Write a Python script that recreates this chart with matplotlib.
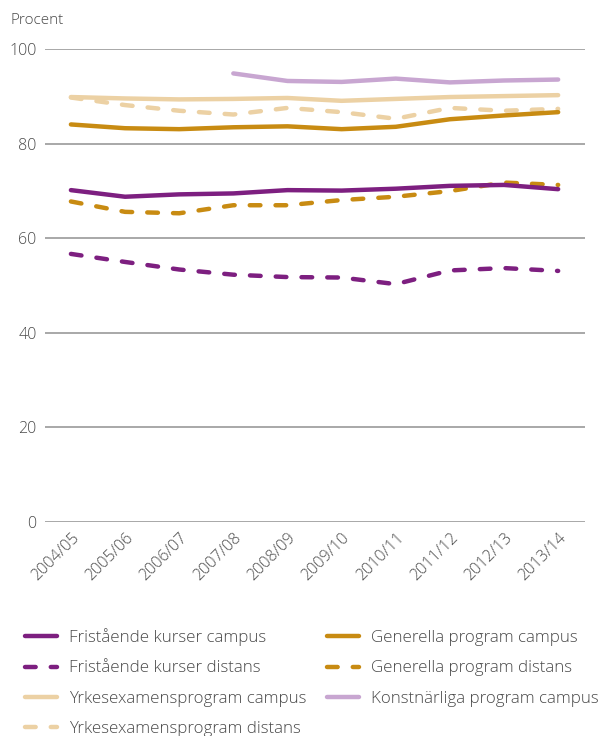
import matplotlib.pyplot as plt
import numpy as np

plt.rcParams['font.family'] = ['Open Sans', 'DejaVu Sans']
plt.rcParams['font.weight'] = 'light'

years = ['2004/05', '2005/06', '2006/07', '2007/08', '2008/09',
         '2009/10', '2010/11', '2011/12', '2012/13', '2013/14']

fristaende_campus = [70.2, 68.8, 69.3, 69.5, 70.2, 70.1, 70.5, 71.1, 71.3, 70.4]
fristaende_distans = [56.7, 55.0, 53.4, 52.3, 51.8, 51.7, 50.3, 53.2, 53.7, 53.1]
yrkes_campus = [89.9, 89.6, 89.4, 89.5, 89.7, 89.1, 89.5, 89.9, 90.1, 90.3]
yrkes_distans = [89.8, 88.2, 87.0, 86.2, 87.6, 86.7, 85.3, 87.6, 87.0, 87.4]
generella_campus = [84.1, 83.3, 83.1, 83.5, 83.7, 83.1, 83.6, 85.2, 86.0, 86.7]
generella_distans = [67.8, 65.6, 65.3, 67.0, 67.0, 68.1, 68.8, 70.0, 71.8, 71.3]
konst_campus = [np.nan, np.nan, np.nan, 94.9, 93.3, 93.1, 93.8, 93.0, 93.4, 93.6]

purple = '#7d1f80'
gold = '#c88b12'
tan = '#ecd1a4'
lilac = '#c8a6d1'
text_col = '#4a4a4a'

fig = plt.figure(figsize=(5.99, 7.36), dpi=100)
ax = fig.add_axes([0.075, 0.291, 0.902, 0.642])

x = np.arange(len(years))
dash = (2.4, 3.4)
kw = dict(lw=3.2, solid_capstyle='round', dash_capstyle='round')

series = [
    (fristaende_campus, purple, '-', 'Fristående kurser campus'),
    (fristaende_distans, purple, '--', 'Fristående kurser distans'),
    (yrkes_campus, tan, '-', 'Yrkesexamensprogram campus'),
    (yrkes_distans, tan, '--', 'Yrkesexamensprogram distans'),
    (generella_campus, gold, '-', 'Generella program campus'),
    (generella_distans, gold, '--', 'Generella program distans'),
    (konst_campus, lilac, '-', 'Konstnärliga program campus'),
]

# draw in an order so the darker lines sit on top
draw_order = [2, 3, 6, 4, 5, 0, 1]
handles = [None] * len(series)
for i in draw_order:
    vals, col, ls, lab = series[i]
    line, = ax.plot(x, vals, color=col, label=lab, **kw)
    if ls == '--':
        line.set_dashes(dash)
    handles[i] = line

ax.set_xlim(-0.48, 9.5)
ax.set_ylim(0, 100)
ax.set_yticks([0, 20, 40, 60, 80, 100])
ax.yaxis.grid(True, color='#9a9a9a', lw=1.2)
ax.set_axisbelow(True)
for s in ax.spines.values():
    s.set_visible(False)
ax.tick_params(axis='both', length=0, labelsize=11.5, colors=text_col)
ax.tick_params(axis='y', pad=6)
ax.set_xticks(x)
ax.set_xticklabels(years, rotation=45, ha='right', va='top', rotation_mode='anchor')
ax.tick_params(axis='x', pad=6)

fig.text(0.018, 0.967, 'Procent', fontsize=11, color=text_col)

leg = fig.legend(handles=handles, loc='upper left', bbox_to_anchor=(0.042, 0.146),
                 ncol=2, frameon=False, fontsize=12.2, labelcolor=text_col,
                 handlelength=1.9, handletextpad=0.7, labelspacing=0.83,
                 columnspacing=1.2, borderaxespad=0, borderpad=0)

plt.savefig('out.png', dpi=100)
